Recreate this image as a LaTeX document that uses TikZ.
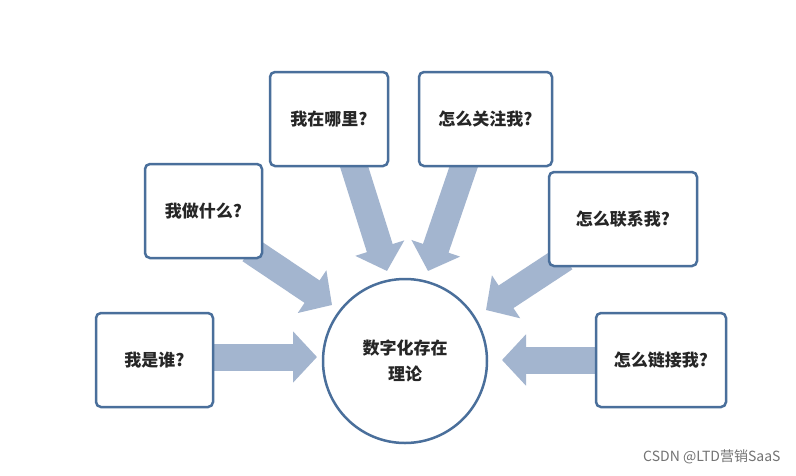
\documentclass[tikz,border=0pt]{standalone}
\usepackage{fontspec}
\setmainfont{Noto Sans CJK SC}
\usetikzlibrary{arrows.meta,backgrounds}
\definecolor{bord}{HTML}{4A6F9B}
\definecolor{arr}{HTML}{A3B5CF}
\tikzset{
 qbox/.style={draw=bord,line width=2.5pt,rounded corners=5pt,fill=white,inner sep=0pt,font=\fontsize{17}{20}\selectfont\bfseries,text=black!85},
 blockarrow/.style={draw=arr,line width=27pt,-{Triangle[length=24pt 0,width=50pt 0]}}
}
\begin{document}
\begin{tikzpicture}[x=1pt,y=-1pt]
\useasboundingbox (0,0) rectangle (796,475);
\node[qbox,minimum width=117pt,minimum height=94pt] (b1) at (154.5,360) {我是谁?};
\node[qbox,minimum width=117pt,minimum height=94pt] (b2) at (203.5,211) {我做什么?};
\node[qbox,minimum width=118pt,minimum height=94pt] (b3) at (329,119) {我在哪里?};
\node[qbox,minimum width=133pt,minimum height=94pt] (b4) at (485.5,119) {怎么关注我?};
\node[qbox,minimum width=148pt,minimum height=94pt] (b5) at (623,219) {怎么联系我?};
\node[qbox,minimum width=130pt,minimum height=94pt] (b6) at (661,360) {怎么链接我?};
\node[draw=bord,line width=2.5pt,circle,minimum size=164pt,fill=white,align=center,font=\fontsize{17}{26}\selectfont\bfseries,text=black!85] (c) at (405,361) {数字化存在\\理论};
\coordinate (t1) at (317,357);
\coordinate (t2) at (332,305);
\coordinate (t3) at (387,271);
\coordinate (t4) at (428,271);
\coordinate (t5) at (486,310);
\coordinate (t6) at (502,360);
\begin{scope}[on background layer]
\fill[white] (0,0) rectangle (796,475);
\draw[blockarrow] (b1.east|-t1) -- (t1);
\draw[blockarrow] (250,250) -- (t2);
\draw[blockarrow] (352,160) -- (t3);
\draw[blockarrow] (466,160) -- (t4);
\draw[blockarrow] (565,258) -- (t5);
\draw[blockarrow] (b6.west|-t6) -- (t6);
\end{scope}
\node[text=black!55,font=\fontsize{14}{16}\selectfont,anchor=east] (wm) at (784,457) {CSDN @LTD营销SaaS};
\end{tikzpicture}
\end{document}
